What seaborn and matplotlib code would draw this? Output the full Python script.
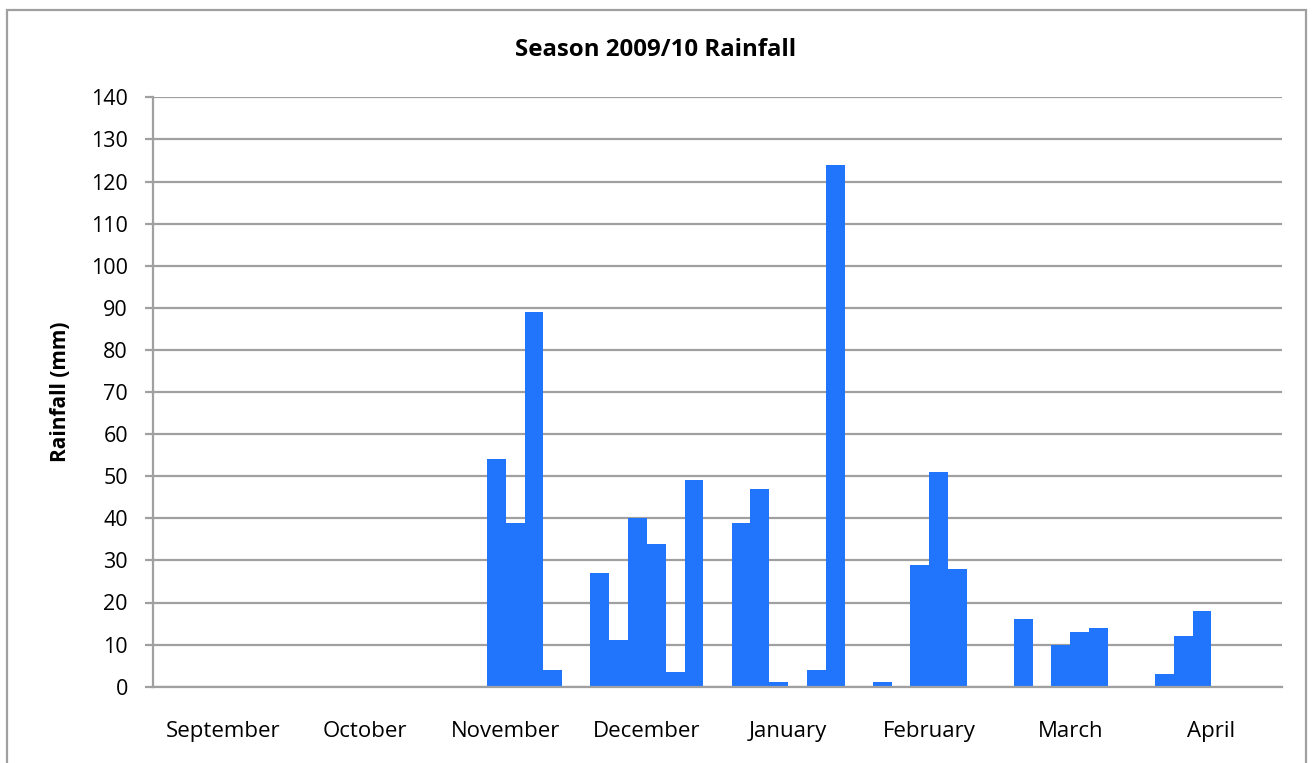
import pandas as pd
import matplotlib
matplotlib.use("Agg")
import matplotlib.pyplot as plt
import seaborn as sns
from matplotlib.patches import Rectangle
from matplotlib.ticker import MultipleLocator

# Weekly rainfall (mm) for each month, up to six weeks per month
months = ["September", "October", "November", "December",
          "January", "February", "March", "April"]
weeks = ["Week 1", "Week 2", "Week 3", "Week 4", "Week 5", "Week 6"]
sep = [0, 0, 0, 0, 0, 0]
oct_ = [0, 0, 0, 0, 0, 0]
nov = [0, 0, 54, 39, 89, 4]
dec = [27, 11, 40, 34, 3.5, 49]
jan = [39, 47, 1, 0, 4, 124]
feb = [1, 0, 29, 51, 28, 0]
mar = [16, 0, 10, 13, 14, 0]
apr = [3, 12, 18, 0, 0, 0]

rows = []
for m, vals in zip(months, [sep, oct_, nov, dec, jan, feb, mar, apr]):
    for w, v in zip(weeks, vals):
        rows.append({"month": m, "week": w, "rainfall": v})
df = pd.DataFrame(rows)

sns.set_style("white")
plt.rcParams["font.family"] = ["Open Sans", "DejaVu Sans"]
plt.rcParams["text.color"] = "black"
plt.rcParams["xtick.color"] = "black"
plt.rcParams["ytick.color"] = "black"
plt.rcParams["axes.labelcolor"] = "black"

bar_color = "#2175FD"
grid_color = "#a0a0a0"

fig = plt.figure(figsize=(13.12, 7.63), dpi=100)
ax = fig.add_axes([153 / 1312, 1 - 686.7 / 763, 1129 / 1312, 589.4 / 763])

sns.barplot(data=df, x="month", y="rainfall", hue="week", order=months,
            hue_order=weeks, palette=[bar_color] * 6, width=0.8, saturation=1,
            errorbar=None, linewidth=0, legend=False, ax=ax)

ax.set_xlim(-0.5, 7.5)
ax.set_ylim(0, 140)
ax.yaxis.set_major_locator(MultipleLocator(10))
ax.set_axisbelow(True)
ax.grid(axis="y", color=grid_color, linewidth=1.6)
ax.grid(axis="x", visible=False)

for s in ["top", "right"]:
    ax.spines[s].set_visible(False)
for s in ["left", "bottom"]:
    ax.spines[s].set_color(grid_color)
    ax.spines[s].set_linewidth(1.6)

# month boundaries as minor ticks, labels centred between them
ax.set_xticks([i - 0.5 for i in range(9)], minor=True)
ax.tick_params(axis="x", which="minor", length=6, width=1.6, color=grid_color, direction="out")
ax.tick_params(axis="x", which="major", length=0, pad=25, labelsize=16)
ax.tick_params(axis="y", length=6, width=1.6, color=grid_color, direction="out", pad=12, labelsize=15.5)
ax.tick_params(left=True, bottom=True)

ax.set_xlabel("")
ax.set_ylabel("Rainfall (mm)", fontsize=15, fontweight="bold")
ax.yaxis.set_label_coords(-0.073, 0.5)

fig.text(0.5, 1 - 50 / 763, "Season 2009/10 Rainfall", ha="center", va="center",
         fontsize=17.3, fontweight="bold")

# outer chart border
fig.patches.append(Rectangle((6.5 / 1312, -0.05), 1299 / 1312, 1.05 - 10 / 763,
                             transform=fig.transFigure, fill=False,
                             edgecolor=grid_color, linewidth=1.6))

fig.savefig("out.png", dpi=100)
